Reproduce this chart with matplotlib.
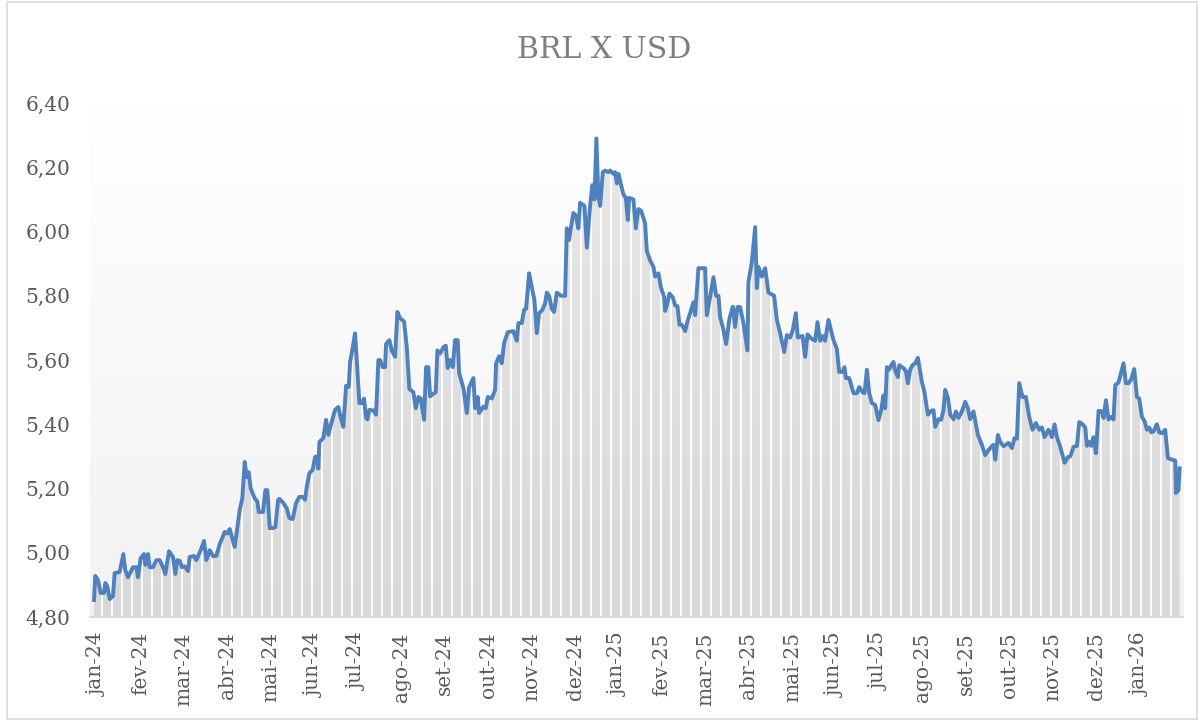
import numpy as np
import matplotlib
matplotlib.use("Agg")
import matplotlib.pyplot as plt
from matplotlib.colors import LinearSegmentedColormap
from matplotlib.patches import Rectangle

# months since start of jan-24 and BRL per USD
months = [
    0.092, 0.122, 0.184, 0.246, 0.322, 0.353, 0.399, 0.453, 0.529, 0.568, 0.683, 0.767, 0.813, 0.875,
    0.990, 1.067, 1.105, 1.166, 1.243, 1.274, 1.335, 1.374, 1.450, 1.527, 1.604, 1.680, 1.734, 1.818,
    1.910, 1.964, 2.010, 2.064, 2.117, 2.179, 2.255, 2.294, 2.394, 2.447, 2.547, 2.624, 2.677, 2.755,
    2.831, 2.907, 2.985, 3.100, 3.160, 3.215, 3.330, 3.445, 3.505, 3.560, 3.606, 3.652, 3.698, 3.790,
    3.850, 3.882, 3.982, 4.035, 4.081, 4.136, 4.212, 4.265, 4.327,
    4.357, 4.449, 4.527, 4.587, 4.665, 4.741, 4.817, 4.895, 4.948, 4.987, 5.047, 5.125, 5.178, 5.217,
    5.255, 5.278, 5.369, 5.432, 5.485, 5.547, 5.639, 5.715, 5.770, 5.830, 5.892, 5.954, 5.984, 6.046,
    6.099, 6.152, 6.198, 6.253, 6.306, 6.352, 6.382, 6.428, 6.520, 6.582, 6.635, 6.674, 6.736, 6.789,
    6.812, 6.889, 6.943, 7.020, 7.073, 7.135, 7.227, 7.289, 7.349, 7.441, 7.496, 7.556, 7.611, 7.687,
    7.733, 7.786, 7.825, 7.901, 7.956, 7.993, 8.055, 8.131, 8.187, 8.232, 8.285, 8.348, 8.400,
    8.462, 8.493, 8.592, 8.670, 8.723, 8.822, 8.861, 8.923, 8.953, 9.052, 9.107, 9.153, 9.245, 9.321,
    9.344, 9.413, 9.475, 9.528, 9.613, 9.742, 9.820, 9.857, 9.935, 9.988, 10.034, 10.104, 10.165,
    10.226, 10.281, 10.334, 10.410, 10.472, 10.511, 10.564, 10.626, 10.679, 10.741, 10.840, 10.932,
    10.971, 11.024, 11.063, 11.123, 11.178, 11.238, 11.277, 11.377, 11.432, 11.507, 11.560, 11.606,
    11.652, 11.698, 11.738, 11.800, 11.853, 11.929, 11.968, 12.044, 12.083, 12.122, 12.159, 12.274,
    12.329, 12.375, 12.405, 12.504, 12.559, 12.619, 12.681,
    12.773, 12.812, 12.888, 12.965, 13.004, 13.080, 13.135, 13.211, 13.234, 13.273, 13.333, 13.411,
    13.464, 13.517, 13.563, 13.618, 13.694, 13.747, 13.809, 13.885, 13.924, 14.000, 14.154, 14.193,
    14.269, 14.346, 14.407, 14.461, 14.499, 14.576, 14.637, 14.714, 14.791, 14.844, 14.897, 14.959,
    15.035, 15.127, 15.150, 15.229, 15.305, 15.344, 15.381, 15.459, 15.535, 15.611, 15.742, 15.804,
    15.880, 15.972, 16.034, 16.110, 16.172, 16.241, 16.287, 16.394, 16.456, 16.509, 16.587, 16.686,
    16.739, 16.801, 16.862, 16.915, 16.992,
    17.107, 17.185, 17.238, 17.314, 17.360, 17.392, 17.468, 17.568, 17.646, 17.699, 17.775, 17.821,
    17.876, 17.929, 17.991, 18.067, 18.143, 18.205, 18.258, 18.297, 18.336, 18.389, 18.435, 18.488,
    18.527, 18.589, 18.619, 18.718, 18.773, 18.819, 18.872, 18.925, 18.987, 19.049, 19.141, 19.201,
    19.279, 19.356, 19.409, 19.448, 19.524, 19.586, 19.639, 19.678, 19.740, 19.793, 19.869, 19.924,
    19.984, 20.062, 20.138, 20.200, 20.253, 20.329, 20.430, 20.522, 20.598, 20.674, 20.753, 20.790,
    20.829, 20.891, 20.944, 21.020,
    21.135, 21.212, 21.272, 21.327, 21.381, 21.457, 21.535, 21.611, 21.687, 21.765, 21.841, 21.903,
    21.963, 22.055, 22.133, 22.193, 22.248, 22.325, 22.424, 22.502, 22.555, 22.631, 22.709, 22.762,
    22.838, 22.900, 22.939, 22.992, 23.038, 23.091, 23.146, 23.206, 23.284, 23.321, 23.376, 23.436,
    23.498, 23.551, 23.590, 23.666, 23.781, 23.836, 23.896, 23.958, 24.027, 24.089, 24.142, 24.204,
    24.264, 24.319, 24.372, 24.418, 24.471, 24.549, 24.602, 24.664, 24.740, 24.802, 24.894, 24.971,
    24.987, 25.046, 25.071,
]
brl_usd = [
    4.853, 4.928, 4.915, 4.875, 4.875, 4.906, 4.895, 4.856, 4.865, 4.937, 4.940, 4.996, 4.946, 4.924,
    4.955, 4.955, 4.924, 4.983, 4.996, 4.962, 4.996, 4.955, 4.955, 4.977, 4.977, 4.955, 4.934, 5.005,
    4.987, 4.934, 4.977, 4.975, 4.955, 4.958, 4.943, 4.987, 4.990, 4.977, 5.008, 5.037, 4.977, 5.008,
    4.990, 4.990, 5.027, 5.065, 5.060, 5.074, 5.018, 5.133, 5.170, 5.283, 5.236, 5.251, 5.200, 5.170,
    5.160, 5.127, 5.127, 5.195, 5.195, 5.077, 5.077, 5.080, 5.164,
    5.168, 5.155, 5.139, 5.108, 5.105, 5.155, 5.174, 5.174, 5.165, 5.205, 5.248, 5.258, 5.298, 5.300,
    5.262, 5.345, 5.357, 5.414, 5.367, 5.400, 5.445, 5.454, 5.420, 5.392, 5.520, 5.516, 5.594, 5.640,
    5.683, 5.570, 5.466, 5.466, 5.480, 5.420, 5.415, 5.445, 5.443, 5.430, 5.600, 5.600, 5.578, 5.578,
    5.650, 5.662, 5.630, 5.610, 5.750, 5.730, 5.720, 5.640, 5.510, 5.500, 5.450, 5.485, 5.480, 5.414,
    5.578, 5.578, 5.487, 5.495, 5.500, 5.630, 5.620, 5.640, 5.645, 5.575, 5.600, 5.578, 5.662,
    5.662, 5.560, 5.513, 5.435, 5.515, 5.544, 5.450, 5.485, 5.435, 5.455, 5.450, 5.485, 5.480, 5.507,
    5.590, 5.612, 5.590, 5.653, 5.687, 5.690, 5.660, 5.715, 5.715, 5.756, 5.760, 5.870, 5.827,
    5.787, 5.684, 5.746, 5.756, 5.777, 5.810, 5.800, 5.760, 5.750, 5.810, 5.800, 5.800,
    6.010, 5.974, 6.010, 6.058, 6.050, 6.010, 6.090, 6.080, 5.950, 6.080, 6.145, 6.100,
    6.290, 6.107, 6.080, 6.185, 6.190, 6.185, 6.190, 6.180, 6.185, 6.150, 6.180, 6.115,
    6.105, 6.036, 6.105, 6.100, 6.010, 6.070, 6.065,
    6.026, 5.940, 5.910, 5.890, 5.860, 5.870, 5.827, 5.796, 5.753, 5.770, 5.807, 5.795,
    5.770, 5.768, 5.710, 5.710, 5.690, 5.720, 5.746, 5.780, 5.740, 5.886, 5.886, 5.740,
    5.797, 5.858, 5.800, 5.800, 5.734, 5.694, 5.650, 5.730, 5.766, 5.703, 5.765, 5.765,
    5.715, 5.630, 5.843, 5.905, 6.014, 5.824, 5.890, 5.860, 5.886, 5.810, 5.800, 5.725,
    5.684, 5.625, 5.678, 5.670, 5.694, 5.746, 5.670, 5.675, 5.610, 5.680, 5.668, 5.660,
    5.718, 5.660, 5.675, 5.660, 5.725,
    5.662, 5.635, 5.563, 5.563, 5.578, 5.544, 5.544, 5.497, 5.497, 5.516, 5.500, 5.497,
    5.570, 5.497, 5.466, 5.460, 5.413, 5.445, 5.490, 5.450, 5.578, 5.570, 5.584, 5.594,
    5.567, 5.547, 5.584, 5.575, 5.566, 5.528, 5.570, 5.584, 5.590, 5.607, 5.532, 5.500,
    5.430, 5.442, 5.444, 5.392, 5.416, 5.414, 5.445, 5.507, 5.483, 5.430, 5.416, 5.440,
    5.420, 5.440, 5.470, 5.450, 5.416, 5.440, 5.367, 5.336, 5.304, 5.320, 5.332, 5.336,
    5.290, 5.367, 5.345, 5.332,
    5.342, 5.326, 5.357, 5.355, 5.528, 5.485, 5.485, 5.423, 5.383, 5.404, 5.383, 5.390,
    5.360, 5.383, 5.360, 5.400, 5.360, 5.330, 5.280, 5.298, 5.300, 5.330, 5.333, 5.407,
    5.400, 5.390, 5.333, 5.345, 5.333, 5.360, 5.310, 5.442, 5.440, 5.420, 5.475, 5.415,
    5.423, 5.415, 5.522, 5.530, 5.590, 5.528, 5.528, 5.540, 5.572, 5.485, 5.480, 5.423,
    5.410, 5.383, 5.390, 5.375, 5.378, 5.400, 5.375, 5.372, 5.383, 5.295, 5.290, 5.287,
    5.186, 5.195, 5.263,
]
month_labels = [
    "jan-24", "fev-24", "mar-24", "abr-24", "mai-24", "jun-24", "jul-24", "ago-24", "set-24",
    "out-24", "nov-24", "dez-24", "jan-25", "fev-25", "mar-25", "abr-25", "mai-25", "jun-25",
    "jul-25", "ago-25", "set-25", "out-25", "nov-25", "dez-25", "jan-26",
]
y_ticks = [4.8, 5.0, 5.2, 5.4, 5.6, 5.8, 6.0, 6.2, 6.4]

x = np.array(months)
y = np.array(brl_usd)
x0, x1 = 0.0, 25.15
ymin, ymax = 4.8, 6.4

fig = plt.figure(figsize=(12.03, 7.21), dpi=100)
ax = fig.add_axes([0.0748, 0.1442, 0.9086, 0.7128])
fig.patches.append(Rectangle((0.006, 0.003), 0.989, 0.994, transform=fig.transFigure,
                             fill=False, edgecolor="#d9d9d9", linewidth=1.2))

# plot-area background gradient (white at top -> light gray at bottom)
bg = LinearSegmentedColormap.from_list("bg", ["#f2f2f2", "#ffffff"])
grad = np.linspace(0, 1, 256).reshape(-1, 1)
ax.imshow(grad, extent=[x0, x1, ymin, ymax], origin="lower", aspect="auto", cmap=bg, zorder=0)

# area under the series, with its own gradient
poly = ax.fill_between(x, ymin, y, facecolor="none", edgecolor="none", zorder=1)
fillcm = LinearSegmentedColormap.from_list("fill", ["#d8d8d8", "#e8e8e8"])
im = ax.imshow(grad, extent=[x0, x1, ymin, ymax], origin="lower", aspect="auto",
               cmap=fillcm, zorder=1)
im.set_clip_path(poly.get_paths()[0], transform=ax.transData)

# weekly white stripes inside the area
weeks = np.arange(0.27, x1, 7 / 30.44)
stripes = ax.vlines(weeks, ymin, ymax, color="white", linewidth=1.5, alpha=0.9, zorder=2)
stripes.set_clip_path(poly.get_paths()[0], transform=ax.transData)

ax.plot(x, y, color="#4f81bd", linewidth=2.8, solid_joinstyle="round", zorder=3)

ax.set_xlim(x0, x1)
ax.set_ylim(ymin, ymax)
ax.set_xticks(np.arange(len(month_labels)) + 0.16)
ax.set_xticklabels(month_labels, rotation=90, fontsize=14.5, color="#595959", family="DejaVu Serif")
ax.set_yticks(y_ticks)
ax.set_yticklabels([f"{v:.2f}".replace(".", ",") for v in y_ticks], fontsize=14.5,
                   color="#595959", family="DejaVu Serif")
ax.tick_params(axis="both", length=0)
ax.tick_params(axis="y", pad=14)
ax.tick_params(axis="x", pad=11)
for s in ["top", "right", "left"]:
    ax.spines[s].set_visible(False)
ax.spines["bottom"].set_color("#d9d9d9")
ax.spines["bottom"].set_linewidth(1.5)

fig.text(0.5025, 0.93, "BRL X USD", ha="center", va="center", fontsize=21.5, color="#7f7f7f",
         family="DejaVu Serif")

fig.savefig("out.png", dpi=100)
